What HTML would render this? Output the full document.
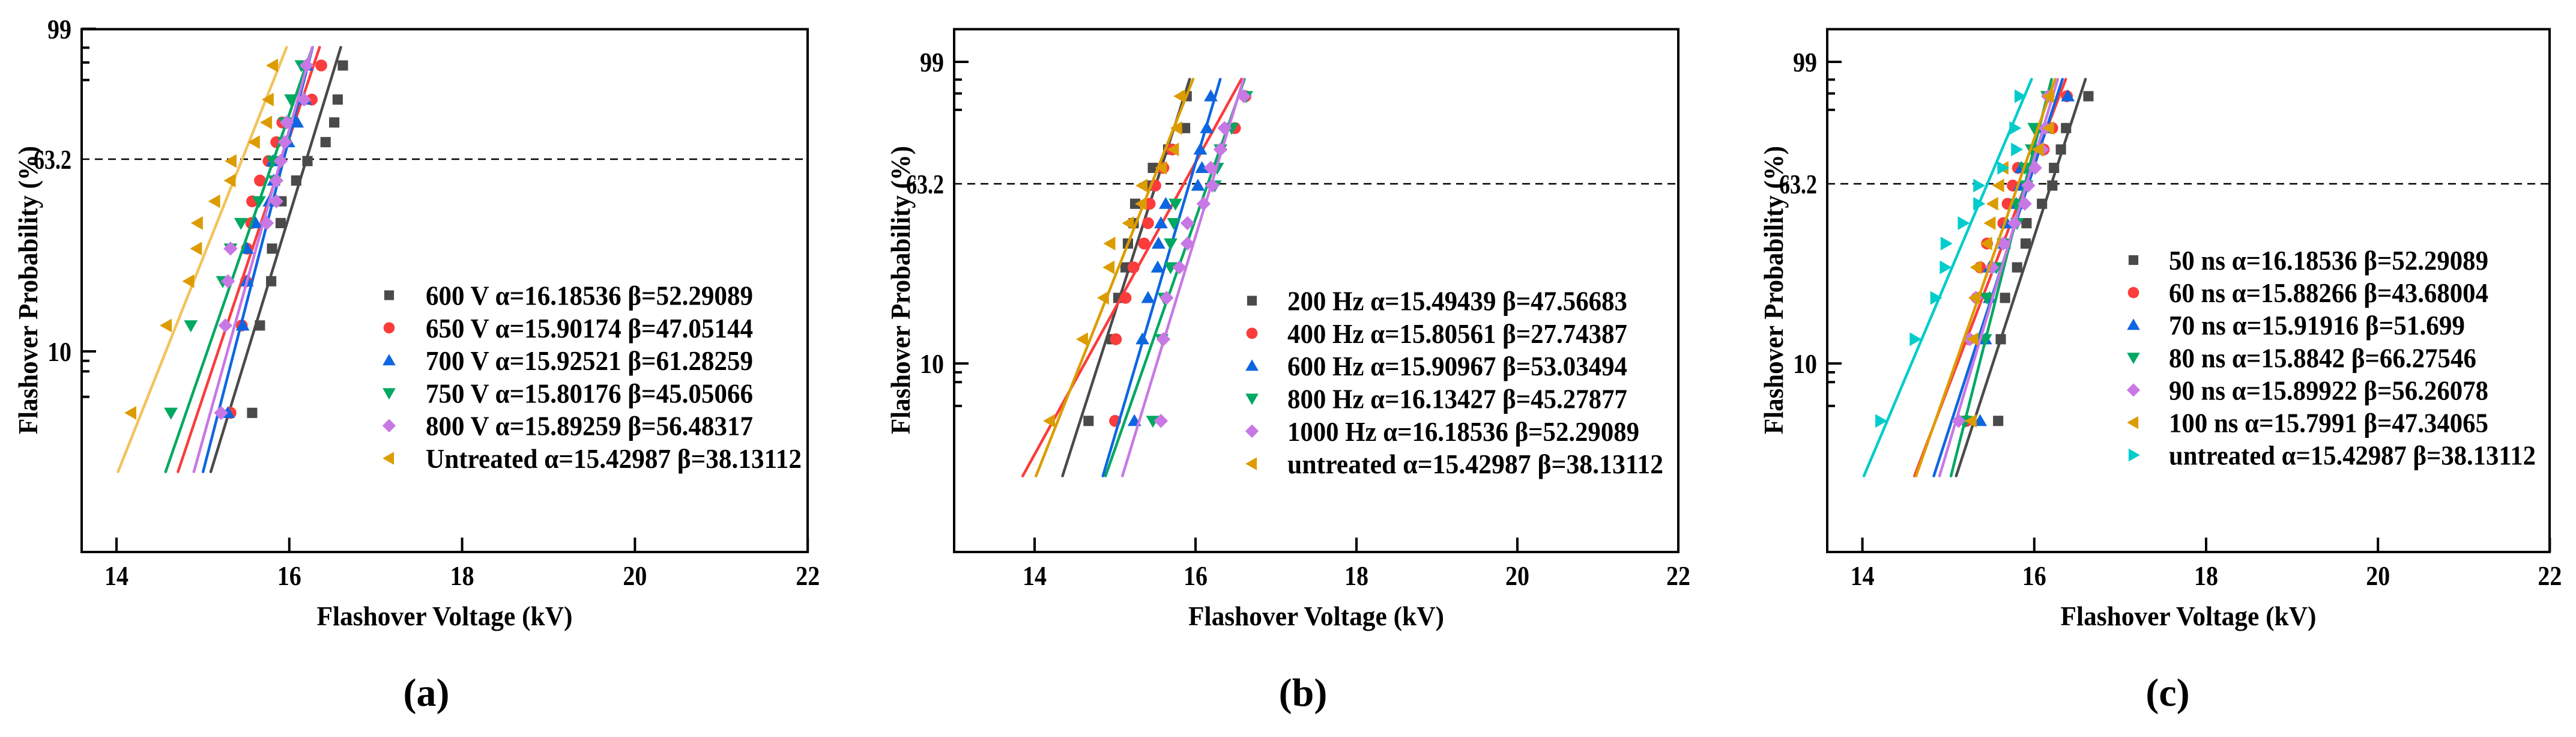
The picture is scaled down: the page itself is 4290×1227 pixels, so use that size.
<!DOCTYPE html>
<html><head><meta charset="utf-8"><style>
html,body{margin:0;padding:0;background:#fff}
svg{display:block}
text{font-family:"Liberation Serif","DejaVu Serif",serif;font-weight:bold;fill:#000}
</style></head>
<body>
<svg id="fig" width="4290" height="1227" viewBox="0 0 4290 1227" xmlns="http://www.w3.org/2000/svg"></svg>
<script>
// shared probability levels (%) for the 12 ranked samples
const probLevels = [5.0,13.3,21.3,29.6,37.7,45.7,54.1,62.4,70.5,78.5,86.6,95.0];
const xTickValues = [14,16,18,20,22];
const xTickLabels = ["14","16","18","20","22"];
const yTickValues = [99,63.2,10];
const yTickLabels = ["99","63.2","10"];
const yMinorTicks = [97.5,95.5,92,9,8,6];

// Panel (a)
const aNames = ["600 V","650 V","700 V","750 V","800 V","Untreated"];
const aAlpha = [16.18536,15.90174,15.92521,15.80176,15.89259,15.42987];
const aBeta = [52.29089,47.05144,61.28259,45.05066,56.48317,38.13112];
const aAlphaText = ["16.18536","15.90174","15.92521","15.80176","15.89259","15.42987"];
const aBetaText = ["52.29089","47.05144","61.28259","45.05066","56.48317","38.13112"];
const a600 = [15.57,15.66,15.79,15.80,15.90,15.91,16.08,16.21,16.42,16.52,16.56,16.62];
const a650 = [15.32,15.45,15.50,15.51,15.56,15.57,15.66,15.76,15.85,15.92,16.26,16.37];
const a700 = [15.29,15.46,15.51,15.51,15.61,15.77,15.82,15.81,15.99,16.09,16.18,16.20];
const a750 = [14.63,14.86,15.23,15.32,15.44,15.65,15.83,15.81,15.94,15.95,16.02,16.14];
const a800 = [15.21,15.26,15.29,15.32,15.74,15.85,15.85,15.90,15.95,15.97,16.17,16.20];
const aUnt = [14.17,14.58,14.84,14.93,14.94,15.14,15.32,15.33,15.60,15.74,15.76,15.81];

// Panel (b)
const bNames = ["200 Hz","400 Hz","600 Hz","800 Hz","1000 Hz","untreated"];
const bAlpha = [15.49439,15.80561,15.90967,16.13427,16.18536,15.42987];
const bBeta = [47.56683,27.74387,53.03494,45.27877,52.29089,38.13112];
const bAlphaText = ["15.49439","15.80561","15.90967","16.13427","16.18536","15.42987"];
const bBetaText = ["47.56683","27.74387","53.03494","45.27877","52.29089","38.13112"];
const b200 = [14.67,14.96,15.04,15.13,15.16,15.23,15.25,15.44,15.47,15.66,15.87,15.89];
const b400 = [15.00,15.01,15.13,15.23,15.36,15.41,15.43,15.50,15.60,15.71,16.49,16.62];
const b600 = [15.24,15.34,15.41,15.53,15.54,15.57,15.63,16.03,16.08,16.06,16.14,16.19];
const b800 = [15.47,15.58,15.61,15.69,15.69,15.73,15.75,16.24,16.27,16.31,16.45,16.63];
const b1000 = [15.57,15.60,15.64,15.80,15.90,15.90,16.10,16.21,16.19,16.31,16.36,16.60];
const bUnt = [14.19,14.60,14.86,14.93,14.94,15.17,15.33,15.34,15.58,15.73,15.77,15.81];

// Panel (c)
const cNames = ["50 ns","60 ns","70 ns","80 ns","90 ns","100 ns","untreated"];
const cAlpha = [16.18536,15.88266,15.91916,15.8842,15.89922,15.7991,15.42987];
const cBeta = [52.29089,43.68004,51.699,66.27546,56.26078,47.34065,38.13112];
const cAlphaText = ["16.18536","15.88266","15.91916","15.8842","15.89922","15.7991","15.42987"];
const cBetaText = ["52.29089","43.68004","51.699","66.27546","56.26078","47.34065","38.13112"];
const c50 = [15.58,15.61,15.66,15.80,15.90,15.91,16.09,16.21,16.23,16.31,16.37,16.63];
const c60 = [15.21,15.24,15.33,15.37,15.45,15.64,15.69,15.75,15.81,16.11,16.21,16.38];
const c70 = [15.37,15.43,15.48,15.48,15.65,15.68,15.79,15.83,15.85,16.05,16.12,16.39];
const c80 = [15.20,15.43,15.45,15.56,15.64,15.80,15.79,15.91,15.89,15.97,16.00,16.15];
const c90 = [15.12,15.25,15.32,15.51,15.64,15.77,15.89,15.93,16.01,16.09,16.13,16.16];
const c100 = [15.27,15.29,15.31,15.33,15.45,15.49,15.52,15.59,15.64,16.05,16.17,16.17];
const cUnt = [14.21,14.61,14.85,14.96,14.97,15.17,15.35,15.35,15.63,15.79,15.77,15.83];

const NS = "http://www.w3.org/2000/svg";
const svg = document.getElementById("fig");
function mk(tag, attrs, parent){
  const e = document.createElementNS(NS, tag);
  for (const k in attrs) e.setAttribute(k, attrs[k]);
  (parent||svg).appendChild(e);
  return e;
}
const GRAY="#4a4a4a", RED="#fb3c3c", BLUE="#0d66e0", GREEN="#00a862", PURPLE="#c878e4", ORANGE="#dc9c00", CYAN="#00cccc";
function wy(p){ const F=p/100; return Math.log(-Math.log(1-F)); }
const LINE_Y0 = -3.66, LINE_Y1 = 1.31;

function marker(g, shape, cx, cy, color, s){
  let m;
  if (shape==="square") m = mk("rect",{x:cx-s*0.45,y:cy-s*0.45,width:s*0.9,height:s*0.9,fill:color},g);
  else if (shape==="circle") m = mk("circle",{cx:cx,cy:cy,r:s*0.52,fill:color},g);
  else if (shape==="up") m = mk("polygon",{points:`${cx},${cy-s*0.6} ${cx-s*0.6},${cy+s*0.45} ${cx+s*0.6},${cy+s*0.45}`,fill:color},g);
  else if (shape==="down") m = mk("polygon",{points:`${cx},${cy+s*0.6} ${cx-s*0.6},${cy-s*0.45} ${cx+s*0.6},${cy-s*0.45}`,fill:color},g);
  else if (shape==="diamond") m = mk("polygon",{points:`${cx},${cy-s*0.62} ${cx+s*0.62},${cy} ${cx},${cy+s*0.62} ${cx-s*0.62},${cy}`,fill:color},g);
  else if (shape==="left") m = mk("polygon",{points:`${cx-s*0.6},${cy} ${cx+s*0.45},${cy-s*0.6} ${cx+s*0.45},${cy+s*0.6}`,fill:color},g);
  else m = mk("polygon",{points:`${cx+s*0.6},${cy} ${cx-s*0.45},${cy-s*0.6} ${cx-s*0.45},${cy+s*0.6}`,fill:color},g);
  return m;
}

function panel(cfg){
  const g = mk("g",{});
  
  
  const X = v => cfg.x14 + (v-14)*cfg.kv;
  const Y = p => cfg.y63 - wy(p)*cfg.ky;
  const Yw = w => cfg.y63 - w*cfg.ky;
  // dashed 63.2 line
  const dl = mk("line",{x1:cfg.left,x2:cfg.right,y1:Y(63.2),y2:Y(63.2),stroke:"#000","stroke-width":2.5,"stroke-dasharray":"13 9"},g);
  
  
  // series
  cfg.series.forEach((s,i)=>{
    const sg = mk("g",{},g);
    
    
    const a = cfg.alpha[i], b = cfg.beta[i];
    const x0 = a*Math.exp(LINE_Y0/b), x1 = a*Math.exp(LINE_Y1/b);
    const ln = mk("line",{x1:X(x0),y1:Yw(LINE_Y0),x2:X(x1),y2:Yw(LINE_Y1),stroke:s.lineColor||s.color,"stroke-width":4.5,"stroke-linecap":"round"},sg);
    
    
    s.data.forEach((v,j)=>{
      const m = marker(sg, s.shape, X(v), Y(probLevels[j]), s.color, 19);
      
      
    });
  });
  // frame
  const fr = mk("rect",{x:cfg.left,y:cfg.top,width:cfg.right-cfg.left,height:cfg.bottom-cfg.top,fill:"none",stroke:"#000","stroke-width":4},g);
  
  
  // x ticks
  xTickValues.forEach((v,i)=>{
    const t = mk("line",{x1:X(v),x2:X(v),y1:cfg.bottom,y2:cfg.bottom-24,stroke:"#000","stroke-width":4},g);
    
    
    const tl = mk("text",{x:X(v),y:cfg.bottom+55,"font-size":46,"text-anchor":"middle",textLength:40,lengthAdjust:"spacingAndGlyphs"},g);
    tl.textContent = xTickLabels[i];
    
    
  });
  // y ticks
  yTickValues.forEach((v,i)=>{
    if (v!==63.2){
      const t = mk("line",{x1:cfg.left,x2:cfg.left+24,y1:Y(v),y2:Y(v),stroke:"#000","stroke-width":4},g);
      
      
    }
    const lab = yTickLabels[i];
    const tl = mk("text",{x:cfg.left-17,y:Y(v)+16,"font-size":46,"text-anchor":"end",textLength:lab.length>2?63:40,lengthAdjust:"spacingAndGlyphs"},g);
    tl.textContent = lab;
    
    
  });
  yMinorTicks.forEach(v=>{
    const t = mk("line",{x1:cfg.left,x2:cfg.left+13,y1:Y(v),y2:Y(v),stroke:"#000","stroke-width":4},g);
    
    
  });
  // axis titles
  const xt = mk("text",{x:(cfg.left+cfg.right)/2,y:cfg.bottom+122,"font-size":46,"text-anchor":"middle",textLength:426,lengthAdjust:"spacingAndGlyphs"},g);
  xt.textContent = "Flashover Voltage (kV)";
  
  
  const yx = cfg.left-74, yc = 483;
  const yt = mk("text",{x:yx,y:yc,"font-size":46,"text-anchor":"middle",textLength:480,lengthAdjust:"spacingAndGlyphs",transform:`rotate(-90 ${yx} ${yc})`},g);
  yt.textContent = "Flashover Probability (%)";
  
  
  // legend
  cfg.series.forEach((s,i)=>{
    const ly = cfg.legY + i*cfg.legDy;
    const lg = mk("g",{},g);
    
    
    marker(lg, s.shape, cfg.legMx, ly, s.color, 18);
    const txt = s.label + " α=" + cfg.alphaText[i] + " β=" + cfg.betaText[i];
    const t = mk("text",{x:cfg.legTx,y:ly+16,"font-size":46,textLength:Math.round(txt.length*cfg.charW),lengthAdjust:"spacingAndGlyphs"},lg);
    t.textContent = txt;
  });
  // caption
  const cap = mk("text",{x:cfg.capX,y:1175,"font-size":66,"text-anchor":"middle","font-weight":"normal"},g);
  cap.textContent = cfg.caption;
  
  
}

const shapes = ["square","circle","up","down","diamond","left","right"];
const colors = [GRAY,RED,BLUE,GREEN,PURPLE,ORANGE,CYAN];

panel({name:"panel-a",left:136,right:1345,top:48.6,bottom:919,x14:194,kv:143.9,y63:265,ky:142.2,
  alpha:aAlpha,beta:aBeta,alphaText:aAlphaText,betaText:aBetaText,
  legY:491.5,legDy:54.3,legMx:648,legTx:709,charW:20.2,capX:710,caption:"(a)",
  series:[a600,a650,a700,a750,a800,aUnt].map((d,i)=>({data:d,label:aNames[i],shape:shapes[i],color:colors[i],lineColor:i===5?"#f3c25a":null}))});
panel({name:"panel-b",left:1589,right:2795,top:48.6,bottom:919,x14:1723,kv:134,y63:306,ky:132.9,
  alpha:bAlpha,beta:bBeta,alphaText:bAlphaText,betaText:bBetaText,
  legY:500.6,legDy:54.3,legMx:2085,legTx:2144,charW:20.2,capX:2170,caption:"(b)",
  series:[b200,b400,b600,b800,b1000,bUnt].map((d,i)=>({data:d,label:bNames[i],shape:shapes[i],color:colors[i]}))});
panel({name:"panel-c",left:3043,right:4246,top:48.6,bottom:919,x14:3101.6,kv:143.1,y63:306,ky:132.9,
  alpha:cAlpha,beta:cBeta,alphaText:cAlphaText,betaText:cBetaText,
  legY:433,legDy:54.1,legMx:3553,legTx:3612,charW:19.7,capX:3610,caption:"(c)",
  series:[c50,c60,c70,c80,c90,c100,cUnt].map((d,i)=>({data:d,label:cNames[i],shape:shapes[i],color:colors[i]}))});
</script>
</body></html>
